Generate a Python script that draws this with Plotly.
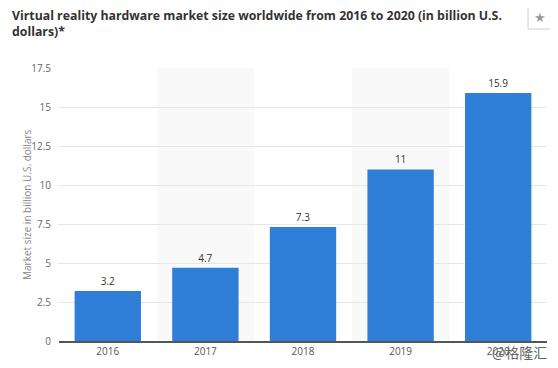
import plotly.graph_objects as go

years = ["2016", "2017", "2018", "2019", "2020"]
values = [3.2, 4.7, 7.3, 11, 15.9]
value_labels = ["3.2", "4.7", "7.3", "11", "15.9"]
tick_vals = [0, 2.5, 5, 7.5, 10, 12.5, 15, 17.5]
tick_text = ["0", "2.5", "5", "7.5", "10", "12.5", "15", "17.5"]

# the page body has an 8px margin, so the figure is drawn 8px smaller
OFF = 8
W, H = 558 - OFF, 368 - OFF
L, R, T, B = 59 - OFF, 558 - 547, 68 - OFF, 368 - 341
PW, PH = W - L - R, H - T - B


def px(x):
    return (x - OFF - L) / PW


def py(y):
    return (H - B - (y - OFF)) / PH


fig = go.Figure()
fig.add_trace(go.Bar(
    x=years, y=values, text=value_labels, textposition="outside",
    textfont=dict(size=10, color="#333333", family="Open Sans"),
    marker=dict(color="#2f7ed8", line=dict(width=0)),
    width=0.68, cliponaxis=False,
))

# alternating shaded bands
for i in [1, 3]:
    fig.add_shape(type="rect", xref="x", yref="y", x0=i - 0.5, x1=i + 0.5,
                  y0=0, y1=17.5, fillcolor="#f9f9f9", line=dict(width=0), layer="below")

fig.update_layout(
    width=W, height=H,
    margin=dict(l=L, r=R, t=T, b=B, autoexpand=False),
    paper_bgcolor="white", plot_bgcolor="white",
    showlegend=False,
    font=dict(family="Open Sans", color="#666666"),
    xaxis=dict(
        type="category", range=[-0.5, 4.5], automargin=False,
        showgrid=False, showline=True, linecolor="#555555", linewidth=1.5,
        ticks="", tickfont=dict(size=10, color="#555555"),
    ),
    yaxis=dict(
        range=[0, 17.5], tickvals=tick_vals, ticktext=tick_text, automargin=False,
        showgrid=True, gridcolor="#e6e6e6", gridwidth=1,
        zeroline=False, showline=False, ticks="", ticklabelstandoff=7,
        tickfont=dict(size=10, color="#666666"),
    ),
)

# title
fig.add_annotation(
    text="<b>Virtual reality hardware market size worldwide from 2016 to 2020 (in billion U.S.<br>dollars)*</b>",
    xref="paper", yref="paper", x=px(10), y=py(5), xanchor="left", yanchor="top",
    align="left", showarrow=False,
    font=dict(size=12.3, color="#333333", family="Open Sans"))

# y axis title
fig.add_annotation(text="Market size in billion U.S. dollars", xref="paper", yref="paper",
                   x=px(27), y=py(205), textangle=-90, showarrow=False,
                   xanchor="center", yanchor="middle",
                   font=dict(size=10, color="#888888", family="Open Sans"))

# star button
fig.add_shape(type="rect", xref="paper", yref="paper", x0=px(528), x1=px(551),
              y0=py(29), y1=py(6), line=dict(color="#d0d0d0", width=1), fillcolor="white")
fig.add_annotation(text="★", xref="paper", yref="paper", x=px(539.5), y=py(18),
                   xanchor="center", yanchor="middle", showarrow=False,
                   font=dict(size=13, color="#999999", family="DejaVu Sans"))
# watermark
fig.add_annotation(text="@格隆汇", xref="paper", yref="paper", x=px(549), y=py(352),
                   xanchor="right", yanchor="middle", showarrow=False,
                   font=dict(size=14, color="#666666", family="Noto Sans CJK SC"))

fig.write_html("out.html")
